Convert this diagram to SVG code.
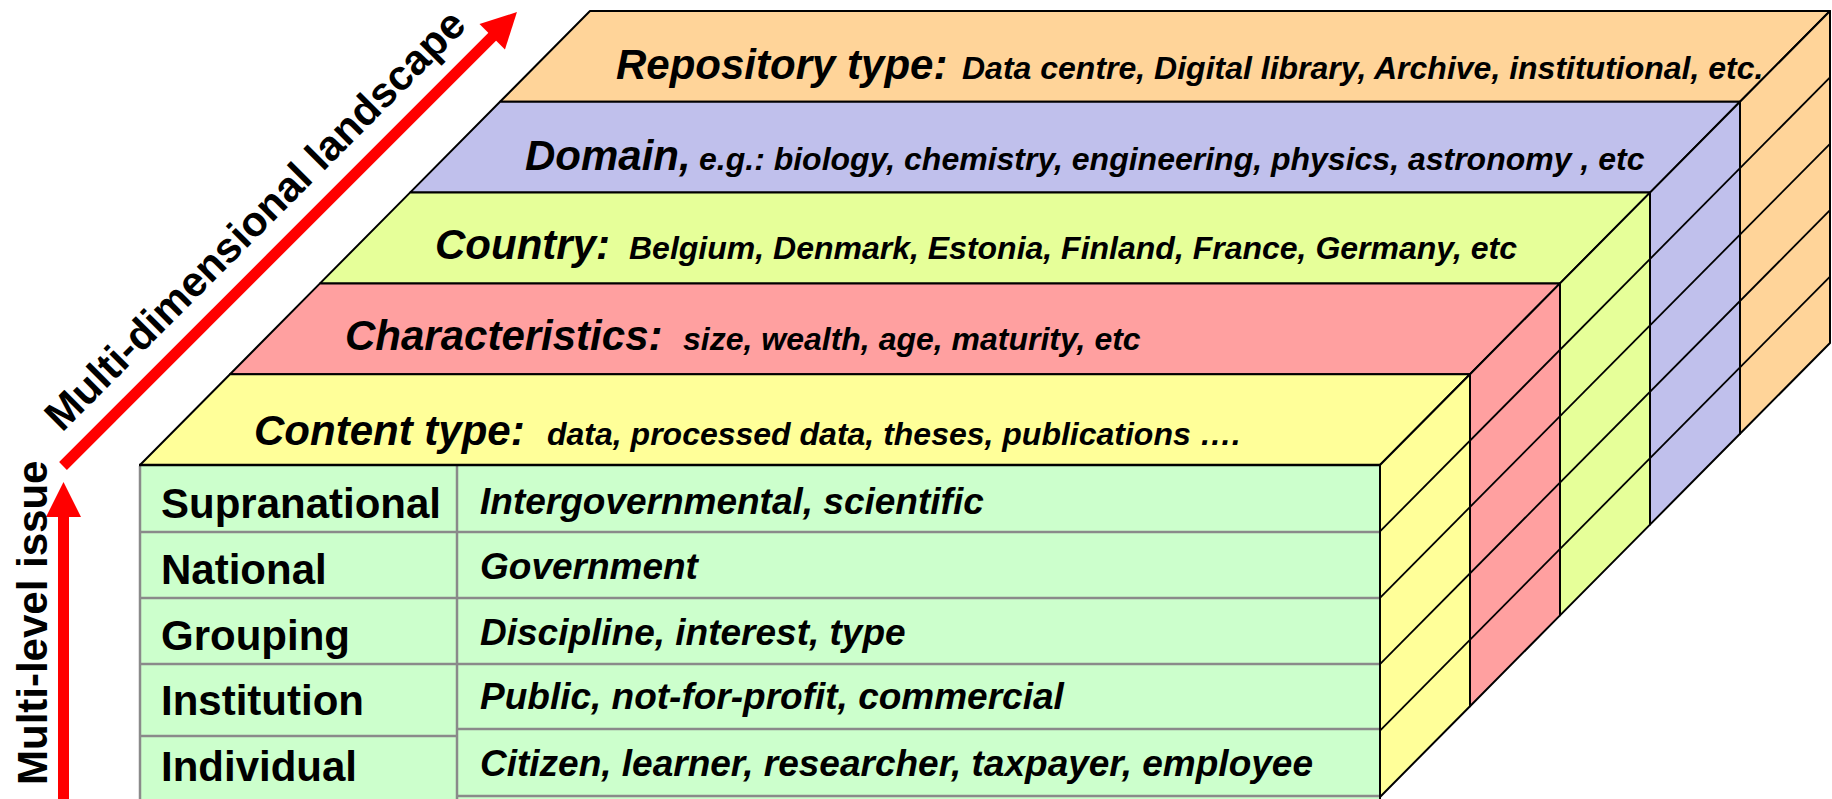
<svg xmlns="http://www.w3.org/2000/svg" width="1832" height="799" viewBox="0 0 1832 799">
<style>
  text { font-family: 'Liberation Sans', Arial, Helvetica, sans-serif; font-weight: bold; fill: #000; }
  .big { font-size: 42px; font-style: italic; }
  .small { font-size: 32px; font-style: italic; }
  .lvl { font-size: 42px; }
  .desc { font-size: 37px; font-style: italic; }
  .face { stroke: #000; stroke-width: 2; stroke-linejoin: round; }
  .grid { stroke: #000; stroke-width: 1.8; fill: none; }
  .row { stroke: #8a8a8a; stroke-width: 2.5; fill: none; }
  .arrow { fill: #ff0000; stroke: none; }
  .orange { fill: #ffd499; }
  .purple { fill: #c0c0ec; }
  .lime { fill: #e6ff99; }
  .pink { fill: #ffa0a0; }
  .yellow { fill: #ffff99; }
  .green { fill: #ccffcc; }
</style>

<g id="layer-repository">
  <polygon class="face orange" points="500,101.8 1740,101.8 1830,11 590,11"/>
  <polygon class="face orange" points="1740,101.8 1830,11 1830,343 1740,433.8"/>
  <text x="616" y="79"><tspan class="big">Repository type:</tspan><tspan class="small" x="962">Data centre, Digital library, Archive, institutional, etc.</tspan></text>
</g>

<g id="layer-domain">
  <polygon class="face purple" points="410,192.6 1650,192.6 1740,101.8 500,101.8"/>
  <polygon class="face purple" points="1650,192.6 1740,101.8 1740,433.8 1650,524.6"/>
  <text x="525" y="170"><tspan class="big">Domain,</tspan><tspan class="small" x="699">e.g.: biology, chemistry, engineering, physics, astronomy , etc</tspan></text>
</g>

<g id="layer-country">
  <polygon class="face lime" points="320,283.4 1560,283.4 1650,192.6 410,192.6"/>
  <polygon class="face lime" points="1560,283.4 1650,192.6 1650,524.6 1560,615.4"/>
  <text x="435" y="259"><tspan class="big">Country:</tspan><tspan class="small" x="629">Belgium, Denmark, Estonia, Finland, France, Germany, etc</tspan></text>
</g>

<g id="layer-characteristics">
  <polygon class="face pink" points="230,374.2 1470,374.2 1560,283.4 320,283.4"/>
  <polygon class="face pink" points="1470,374.2 1560,283.4 1560,615.4 1470,706.2"/>
  <text x="345" y="350"><tspan class="big">Characteristics:</tspan><tspan class="small" x="683">size, wealth, age, maturity, etc</tspan></text>
</g>

<g id="layer-content">
  <polygon class="face yellow" points="140,465 1380,465 1470,374.2 230,374.2"/>
  <polygon class="face yellow" points="1380,465 1470,374.2 1470,706.2 1380,797"/>
  <text x="254" y="445"><tspan class="big">Content type:</tspan><tspan class="small" x="547">data, processed data, theses, publications ….</tspan></text>
</g>

<g id="side-grid">
  <line class="grid" x1="1380" y1="531.4" x2="1830" y2="77.4"/>
  <line class="grid" x1="1380" y1="597.8" x2="1830" y2="143.8"/>
  <line class="grid" x1="1380" y1="664.2" x2="1830" y2="210.2"/>
  <line class="grid" x1="1380" y1="730.6" x2="1830" y2="276.6"/>
</g>

<g id="level-table">
  <rect class="green" x="140" y="465" width="1240" height="340"/>
  <line class="row" x1="140" y1="466" x2="140" y2="799"/>
  <line class="row" x1="457" y1="466" x2="457" y2="799"/>
  <line class="row" x1="140" y1="532" x2="457" y2="532"/>
  <line class="row" x1="140" y1="598" x2="457" y2="598"/>
  <line class="row" x1="140" y1="664" x2="457" y2="664"/>
  <line class="row" x1="140" y1="736" x2="457" y2="736"/>
  <line class="row" x1="457" y1="532" x2="1380" y2="532"/>
  <line class="row" x1="457" y1="598" x2="1380" y2="598"/>
  <line class="row" x1="457" y1="664" x2="1380" y2="664"/>
  <line class="row" x1="457" y1="729" x2="1380" y2="729"/>
  <line class="row" x1="457" y1="796" x2="1380" y2="796"/>
  <line stroke="#000" stroke-width="2.5" x1="139" y1="465" x2="1380" y2="465"/>
  <line stroke="#000" stroke-width="2" x1="1380" y1="465" x2="1380" y2="799"/>
</g>

<g id="row-supranational">
  <text class="lvl" x="161" y="518">Supranational</text>
  <text class="desc" x="480" y="514">Intergovernmental, scientific</text>
</g>
<g id="row-national">
  <text class="lvl" x="161" y="584">National</text>
  <text class="desc" x="480" y="579">Government</text>
</g>
<g id="row-grouping">
  <text class="lvl" x="161" y="650">Grouping</text>
  <text class="desc" x="480" y="645">Discipline, interest, type</text>
</g>
<g id="row-institution">
  <text class="lvl" x="161" y="715">Institution</text>
  <text class="desc" x="480" y="709">Public, not-for-profit, commercial</text>
</g>
<g id="row-individual">
  <text class="lvl" x="161" y="781">Individual</text>
  <text class="desc" x="480" y="776">Citizen, learner, researcher, taxpayer, employee</text>
</g>

<g id="connectors">
  <g id="arrow-multilevel">
    <rect class="arrow" x="58" y="515" width="11" height="290"/>
    <polygon class="arrow" points="63.5,482 81,517 46,517"/>
  </g>
  <g id="arrow-multidimensional" transform="translate(63,466) rotate(-45)">
    <rect class="arrow" x="0" y="-5.5" width="610" height="11"/>
    <polygon class="arrow" points="607,-18 642,0 607,18"/>
  </g>
</g>

<g id="axis-labels">
  <text class="lvl" transform="translate(47,785) rotate(-90)">Multi-level issue</text>
  <text class="lvl" transform="translate(62,433) rotate(-45)">Multi-dimensional landscape</text>
</g>
</svg>
